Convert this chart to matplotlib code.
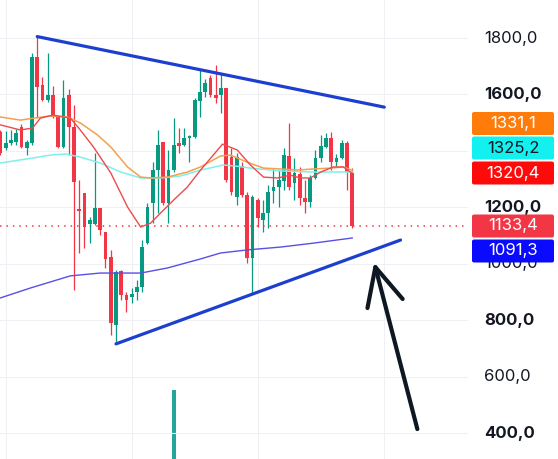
import matplotlib
matplotlib.use("Agg")
import matplotlib.pyplot as plt
from matplotlib.patches import FancyBboxPatch
from matplotlib.transforms import blended_transform_factory
import numpy as np

# ---------------- data ----------------
opens = [1467, 1410, 1428, 1431, 1485, 1410, 1428, 1733, 1633, 1580,
         1598, 1520, 1414, 1598, 1485, 1194, 1251, 1141, 1141, 1198,
         1113, 1024, 783, 974, 889, 882, 900, 918, 1074, 1215,
         1332, 1431, 1215, 1332, 1428, 1421, 1446, 1449, 1577, 1609,
         1658, 1598, 1598, 1623, 1378, 1237, 1346, 1244, 1020, 1226,
         1155, 1180, 1258, 1272, 1293, 1382, 1286, 1318, 1233, 1219,
         1304, 1375, 1414, 1446, 1360, 1375, 1428, 1322]
highs = [1474, 1470, 1474, 1477, 1495, 1438, 1747, 1807, 1662, 1747,
         1630, 1523, 1651, 1619, 1563, 1297, 1251, 1166, 1392, 1198,
         1113, 1049, 978, 978, 900, 914, 942, 1084, 1215, 1360,
         1474, 1431, 1403, 1516, 1481, 1481, 1456, 1587, 1687, 1655,
         1669, 1704, 1676, 1623, 1410, 1392, 1360, 1254, 1244, 1233,
         1226, 1279, 1339, 1332, 1410, 1499, 1375, 1343, 1297, 1314,
         1403, 1456, 1463, 1467, 1389, 1438, 1435, 1339]
lows = [1385, 1403, 1421, 1421, 1410, 1385, 1421, 1516, 1577, 1573,
        1516, 1410, 1410, 1385, 907, 1038, 1056, 1074, 1138, 1102,
        985, 747, 719, 871, 829, 861, 872, 900, 1070, 1144,
        1180, 1208, 1144, 1325, 1392, 1418, 1360, 1445, 1520, 1590,
        1591, 1570, 1534, 1290, 1243, 1208, 1237, 1003, 896, 1130,
        1112, 1127, 1215, 1201, 1261, 1261, 1226, 1208, 1180, 1201,
        1300, 1360, 1410, 1332, 1346, 1370, 1261, 1128]
closes = [1392, 1428, 1438, 1463, 1414, 1431, 1733, 1626, 1580, 1598,
          1520, 1414, 1587, 1485, 1290, 1187, 1130, 1155, 1198, 1120,
          1017, 790, 971, 889, 872, 893, 918, 1059, 1201, 1332,
          1421, 1215, 1332, 1421, 1417, 1446, 1452, 1580, 1609, 1641,
          1598, 1587, 1623, 1297, 1254, 1378, 1244, 1020, 1237, 1162,
          1180, 1254, 1272, 1297, 1385, 1272, 1322, 1233, 1219, 1304,
          1375, 1417, 1446, 1360, 1375, 1428, 1325, 1133.4]

# moving averages sampled at candle positions
ma_red_x = [0, 3.8, 6.1, 7.6, 10, 13.3, 14.9, 17.7, 21, 24.2, 26.7, 28.6, 30.5,
            33, 35.6, 38.1, 42.3, 45.1, 47.6, 50.1, 52.8, 55.2, 57.1, 59, 61,
            63.4, 65.3, 67]
ma_red_y = [1492, 1474, 1481, 1516, 1527, 1516, 1481, 1414, 1322, 1201, 1130,
            1144, 1180, 1226, 1272, 1332, 1424, 1403, 1350, 1307, 1304, 1314,
            1304, 1304, 1325, 1343, 1343, 1320.4]
ma_orange_x = [0, 3.8, 6.3, 9.5, 12.8, 15.2, 18.5, 21, 24.2, 26.7, 28.6, 31.8,
               35.6, 38.1, 41.9, 43.8, 47, 50.1, 53.3, 56.6, 59.6, 62.9, 65.3, 67]
ma_orange_y = [1520, 1509, 1516, 1524, 1520, 1499, 1456, 1414, 1343, 1307, 1304,
               1307, 1325, 1343, 1382, 1385, 1360, 1339, 1336, 1332, 1336, 1339,
               1343, 1331.1]
ma_cyan_x = [0, 3.8, 6.3, 9.5, 12.4, 15.2, 19, 22.9, 26.7, 30.5, 34.3, 38.1,
             42.5, 44.8, 47.6, 53.3, 59.6, 67]
ma_cyan_y = [1357, 1368, 1375, 1385, 1389, 1378, 1357, 1325, 1304, 1304, 1311,
             1332, 1350, 1346, 1339, 1329, 1325, 1325.2]
ma_purple_x = [0, 5.7, 13.3, 19, 26.7, 31.8, 38.1, 41.9, 47, 53.3, 59.6, 67]
ma_purple_y = [879, 914, 957, 967, 967, 985, 1017, 1038, 1049, 1059, 1073, 1091.3]

# volume (only the visible spike)
vol_x = [33]
vol_v = [150000]

# drawings
trend_up_x = [7, 73.1]
trend_up_y = [1805, 1555]
trend_dn_x = [22.0, 76.2]
trend_dn_y = [716, 1084]
arrow_shaft_x = [79.4, 71.4]
arrow_shaft_y = [414, 988]
arrow_head_x = [69.9, 71.4, 76.6]
arrow_head_y = [843, 988, 875]

grid_vals = [1800, 1600, 1400, 1200, 1000, 800, 600, 400]
# 1400,0 is fully hidden behind the badges in the reference, so it is not labelled
ytick_vals = [1800, 1600, 1200, 1000, 800, 600, 400]
ytick_bold = [False, True, True, False, True, False, True]
vgrid_idx = [1, 25, 49, 73]

# ---------------- styling ----------------
W, H = 558, 459
PLOT_R = 468
STEP = 5.25
X0 = 0.5
GREEN = "#089981"
RED = "#F23645"
VOL = "#26a69a"

plt.rcParams['font.family'] = ['Inter', 'DejaVu Sans']

fig = plt.figure(figsize=(W / 100, H / 100), dpi=100)
fig.patch.set_facecolor("white")
ax = fig.add_axes([0, 0, PLOT_R / W, 1])
axv = fig.add_axes([0, 0, PLOT_R / W, 1], zorder=-1)
xlim = (-X0 / STEP, (PLOT_R - X0) / STEP)
for a in (ax, axv):
    a.set_xlim(*xlim)
    a.axis('off')
ax.patch.set_alpha(0)
ax.set_ylim(308.0, 1934.7)
axv.set_ylim(0, 1.0e6)

# grid
for v in grid_vals:
    ax.axhline(v, color="#eef0f3", lw=0.8, zorder=0)
for g in vgrid_idx:
    ax.axvline(g, color="#eef0f3", lw=0.8, zorder=0)

# volume
axv.bar(vol_x, vol_v, width=0.75, color=VOL, linewidth=0)

# candles
o = np.array(opens, float)
h = np.array(highs, float)
l = np.array(lows, float)
c = np.array(closes, float)
idx = np.arange(len(o))
cols = np.where(c >= o, GREEN, RED)
ax.vlines(idx, l, h, colors=cols, lw=0.9, zorder=3)
ax.bar(idx, np.maximum(np.abs(c - o), 3.5), bottom=np.minimum(o, c), width=0.72,
       color=cols, linewidth=0, zorder=3)

# moving averages
ax.plot(ma_purple_x, ma_purple_y, color="#5a4ee6", lw=1.0, zorder=4)
ax.plot(ma_cyan_x, ma_cyan_y, color="#7ff0ea", lw=1.1, zorder=4)
ax.plot(ma_orange_x, ma_orange_y, color="#f5a04c", lw=1.1, zorder=4)
ax.plot(ma_red_x, ma_red_y, color="#ee4a4a", lw=1.0, zorder=4)

# last price dotted line
ax.axhline(closes[-1], color=RED, lw=1.1, ls=(0, (1, 3.2)), zorder=2)

# trend lines
ax.plot(trend_up_x, trend_up_y, color="#1d3fcf", lw=2.3, solid_capstyle='round', zorder=5)
ax.plot(trend_dn_x, trend_dn_y, color="#1d3fcf", lw=2.3, solid_capstyle='round', zorder=5)

# arrow
ax.plot(arrow_shaft_x, arrow_shaft_y, color="#0f1822", lw=3.0,
        solid_capstyle='round', zorder=6)
ax.plot(arrow_head_x, arrow_head_y, color="#0f1822", lw=3.0,
        solid_capstyle='round', solid_joinstyle='round', zorder=6)

# price axis labels
def fmt(v):
    return f"{v:.1f}".replace(".", ",")

tr = blended_transform_factory(fig.transFigure, ax.transData)
for v, b in zip(ytick_vals, ytick_bold):
    ax.text(484 / W, v, fmt(v), transform=tr, ha='left', va='center',
            fontsize=12, color="#131722", fontweight='bold' if b else 'normal',
            clip_on=False, zorder=7)

# value badges
badges = [
    (ma_orange_y[-1], "#ff7b0a", "white", 123.5),
    (ma_cyan_y[-1], "#12f0f0", "#131722", 148),
    (ma_red_y[-1], "#ff0a0a", "white", 173),
    (closes[-1], RED, "white", 226),
    (ma_purple_y[-1], "#0a0aff", "white", 251),
]
for val, bg, fg, cy in badges:
    x0, x1 = 472, 554
    hh = 23
    patch = FancyBboxPatch((x0 / W, 1 - (cy + hh / 2) / H), (x1 - x0) / W, hh / H,
                           boxstyle="round,pad=0,rounding_size=0.004",
                           transform=fig.transFigure, facecolor=bg,
                           edgecolor='none', zorder=8)
    fig.add_artist(patch)
    fig.text((x0 + x1) / 2 / W, 1 - cy / H, fmt(val), ha='center', va='center',
             fontsize=12, color=fg, zorder=9)

fig.savefig("out.png", dpi=100, facecolor="white")
